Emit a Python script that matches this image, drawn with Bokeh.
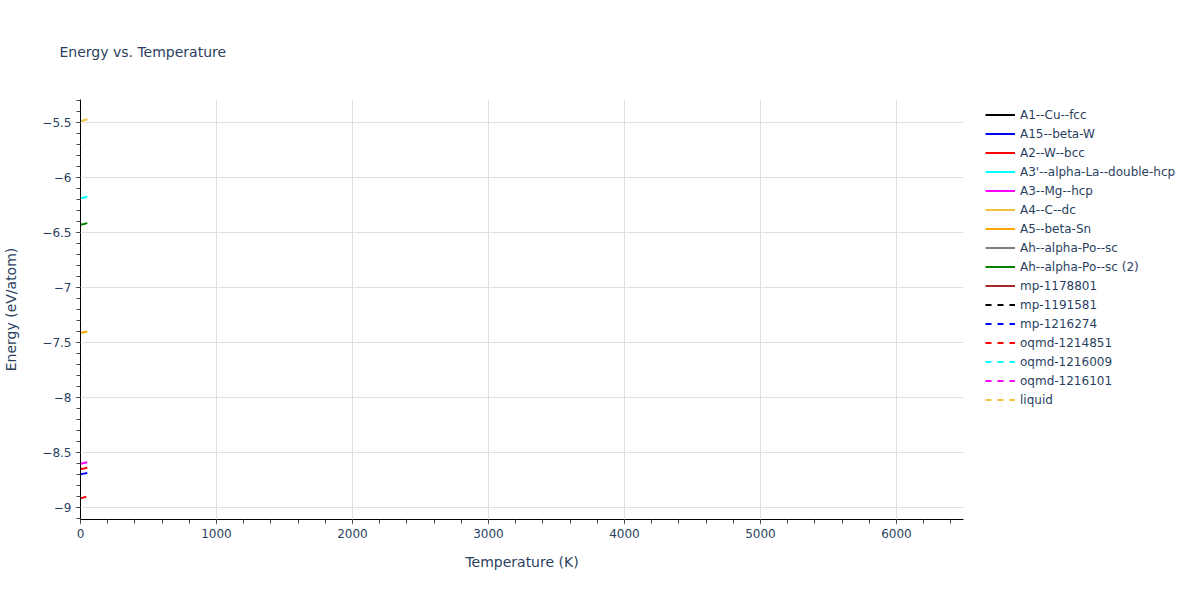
from bokeh.plotting import figure
from bokeh.models import (Range1d, Legend, LegendItem, SingleIntervalTicker,
                          CustomJSTickFormatter, ColumnDataSource, Title)
from bokeh.embed import file_html
from bokeh.resources import INLINE

# ---- data ----
title_text = "Energy vs. Temperature"
series_names = ["A1--Cu--fcc", "A15--beta-W", "A2--W--bcc", "A3'--alpha-La--double-hcp",
                "A3--Mg--hcp", "A4--C--dc", "A5--beta-Sn", "Ah--alpha-Po--sc",
                "Ah--alpha-Po--sc (2)", "mp-1178801", "mp-1191581", "mp-1216274",
                "oqmd-1214851", "oqmd-1216009", "oqmd-1216101", "liquid"]
series_colors = ["black", "blue", "red", "cyan", "magenta", "#ecc33a", "orange", "gray",
                 "green", "brown", "black", "blue", "red", "cyan", "magenta", "#ecc33a"]
series_dashed = [False] * 10 + [True] * 6

NAN = float("nan")
# series not visible in the reference are kept as a single hidden (NaN) point
a1_cu_fcc_T, a1_cu_fcc_E = [0], [NAN]
a15_beta_w_T, a15_beta_w_E = [0, 25, 50], [-8.698, -8.692, -8.686]
a2_w_bcc_T, a2_w_bcc_E = [0, 25, 50], [-8.650, -8.645, -8.639]
a3p_alpha_la_T, a3p_alpha_la_E = [0, 25, 50], [-6.188, -6.182, -6.175]
a3_mg_hcp_T, a3_mg_hcp_E = [0, 25, 50], [-8.602, -8.596, -8.589]
a4_c_dc_T, a4_c_dc_E = [0, 25, 50], [-5.490, -5.480, -5.470]
a5_beta_sn_T, a5_beta_sn_E = [0, 25, 50], [-7.412, -7.406, -7.400]
ah_alpha_po_T, ah_alpha_po_E = [0], [NAN]
ah_alpha_po2_T, ah_alpha_po2_E = [0, 25, 50], [-6.430, -6.423, -6.415]
mp_1178801_T, mp_1178801_E = [0], [NAN]
mp_1191581_T, mp_1191581_E = [0], [NAN]
mp_1216274_T, mp_1216274_E = [0], [NAN]
oqmd_1214851_T, oqmd_1214851_E = [0, 25, 50], [-8.916, -8.908, -8.900]
oqmd_1216009_T, oqmd_1216009_E = [0], [NAN]
oqmd_1216101_T, oqmd_1216101_E = [0], [NAN]
liquid_T, liquid_E = [0], [NAN]

series_T = [a1_cu_fcc_T, a15_beta_w_T, a2_w_bcc_T, a3p_alpha_la_T, a3_mg_hcp_T, a4_c_dc_T,
            a5_beta_sn_T, ah_alpha_po_T, ah_alpha_po2_T, mp_1178801_T, mp_1191581_T,
            mp_1216274_T, oqmd_1214851_T, oqmd_1216009_T, oqmd_1216101_T, liquid_T]
series_E = [a1_cu_fcc_E, a15_beta_w_E, a2_w_bcc_E, a3p_alpha_la_E, a3_mg_hcp_E, a4_c_dc_E,
            a5_beta_sn_E, ah_alpha_po_E, ah_alpha_po2_E, mp_1178801_E, mp_1191581_E,
            mp_1216274_E, oqmd_1214851_E, oqmd_1216009_E, oqmd_1216101_E, liquid_E]

x_range_limits = (0, 6493)
y_range_limits = (-9.109, -5.291)

FONT = "DejaVu Sans"
TXT = "#2a3f5f"

p = figure(frame_width=883, frame_height=420,
           x_range=Range1d(*x_range_limits), y_range=Range1d(*y_range_limits),
           output_backend="svg", toolbar_location=None, title=None,
           min_border_left=79, min_border_top=99, min_border_right=0, min_border_bottom=10)
p.outline_line_color = None
p.background_fill_color = "white"
p.border_fill_color = "white"

# white (invisible) spacer panel next to the frame, then the title itself
p.add_layout(Title(text=".", standoff=23, text_font=FONT, text_font_size="14px",
                   text_color="white"), "above")
p.add_layout(Title(text=title_text, text_font=FONT, text_font_size="14px",
                   text_font_style="normal", text_color=TXT, align="left",
                   offset=-21, standoff=10), "above")

p.xaxis.ticker = SingleIntervalTicker(interval=1000, num_minor_ticks=5)
p.yaxis.ticker = SingleIntervalTicker(interval=0.5, num_minor_ticks=5)
p.yaxis.formatter = CustomJSTickFormatter(
    code="return (tick < 0 ? '\u2212' : '') + Math.abs(tick).toString();")

for ax in (p.xaxis, p.yaxis):
    ax.axis_line_color = "black"
    ax.axis_line_width = 1
    ax.major_tick_line_color = "#bbbbbb"
    ax.minor_tick_line_color = "#444444"
    ax.major_tick_out = 5
    ax.major_tick_in = 0
    ax.minor_tick_out = 4
    ax.minor_tick_in = 0
    ax.major_label_text_font = FONT
    ax.major_label_text_font_size = "12px"
    ax.major_label_text_color = TXT
    ax.axis_label_text_font = FONT
    ax.axis_label_text_font_size = "14px"
    ax.axis_label_text_font_style = "normal"
    ax.axis_label_text_color = TXT

p.xaxis.axis_label = "Temperature (K)"
p.yaxis.axis_label = "Energy (eV/atom)"
p.xaxis.major_label_standoff = 4
p.yaxis.major_label_standoff = 4
p.xaxis.axis_label_standoff = 13
p.yaxis.axis_label_standoff = 20

p.xgrid.grid_line_color = "#e0e0e0"
p.ygrid.grid_line_color = "#e0e0e0"

items = []
for name, color, dashed, T, E in zip(series_names, series_colors, series_dashed, series_T, series_E):
    src = ColumnDataSource(dict(T=T, E=E))
    r = p.line("T", "E", source=src, line_color=color, line_width=2,
               line_dash="6 6" if dashed else "solid")
    items.append(LegendItem(label=name, renderers=[r]))

legend = Legend(items=items, location=(22, 110), margin=0, padding=0, spacing=0,
                glyph_width=30, glyph_height=19, label_height=19, label_standoff=5,
                label_text_font=FONT, label_text_font_size="12px", label_text_color=TXT,
                border_line_alpha=0, background_fill_alpha=0)
p.add_layout(legend, "right")

open("out.html", "w").write(file_html(p, INLINE))
